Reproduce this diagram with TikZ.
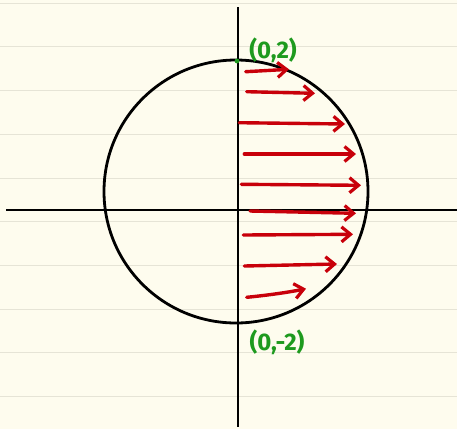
\documentclass[tikz,border=0pt]{standalone}
\usepackage{fontspec}
\setmainfont{Fira Sans}
\usetikzlibrary{arrows.meta}
\definecolor{paper}{HTML}{FEFCEE}
\definecolor{rule}{HTML}{E6E4D6}
\definecolor{penred}{HTML}{C8000A}
\definecolor{pengreen}{HTML}{1E9A1E}
\tikzset{
  ruleline/.style={draw=rule, line width=1.2pt},
  axis/.style={draw=black, line width=2.2pt},
  curve/.style={draw=black, line width=2.8pt},
  vec/.style={draw=penred, line width=3.4pt, line cap=round, -{Straight Barb[length=9pt,width=15pt,line width=3.2pt]}},
  lab/.style={text=pengreen, font=\fontsize{24}{28}\selectfont\bfseries, inner sep=0pt}
}
\begin{document}
\begin{tikzpicture}[x=1pt,y=-1pt]
\fill[paper] (0,0) rectangle (457,429);
\useasboundingbox (0,0) rectangle (457,429);
% ruled lines
\foreach \yy in {3.3,46.7,90.7,134.3,178.3,221.7,265.7,309.3,352.7,396.7}
  \draw[ruleline] (0,\yy) -- (457,\yy);
% axes
\coordinate (xl) at (6,210);
\coordinate (xr) at (457,210);
\coordinate (yt) at (237.7,7);
\coordinate (yb) at (237.7,427);
\draw[axis] (xl) -- (xr);
\draw[axis] (yt) -- (yb);
% circle
\coordinate (c) at (236,191.5);
\draw[curve] (c) ellipse [x radius=132, y radius=131.5];
% arrows
\coordinate (a1s) at (245.7,71.7); \coordinate (a1e) at (289,69.3);
\coordinate (a2s) at (246.7,91.7); \coordinate (a2e) at (315,93.3);
\coordinate (a3s) at (239.3,122.7); \coordinate (a3e) at (345,124);
\coordinate (a4s) at (244.3,154); \coordinate (a4e) at (356,154);
\coordinate (a5s) at (241.3,184.3); \coordinate (a5e) at (361,185.3);
\coordinate (a6s) at (250,211); \coordinate (a6e) at (356,213.3);
\coordinate (a7s) at (243.3,235); \coordinate (a7e) at (353,234.3);
\coordinate (a8s) at (244.3,266); \coordinate (a8e) at (337,264);
\coordinate (a9s) at (246.7,297.3); \coordinate (a9e) at (306,288.7);
\draw[vec] (a1s) -- (a1e);
\draw[vec] (a2s) -- (a2e);
\draw[vec] (a3s) -- (a3e);
\draw[vec] (a4s) -- (a4e);
\draw[vec] (a5s) -- (a5e);
\draw[vec] (a6s) -- (a6e);
\draw[vec] (a7s) -- (a7e);
\draw[vec] (a8s) -- (a8e);
\draw[vec] (a9s) .. controls (270,295) and (290,292) .. (a9e);
% points and labels
\fill[pengreen] (237,61) circle (2.4);
\node[lab] (top) at (273,50) {(0,2)};
\node[lab] (bot) at (277,342) {(0,-2)};
\end{tikzpicture}
\end{document}
